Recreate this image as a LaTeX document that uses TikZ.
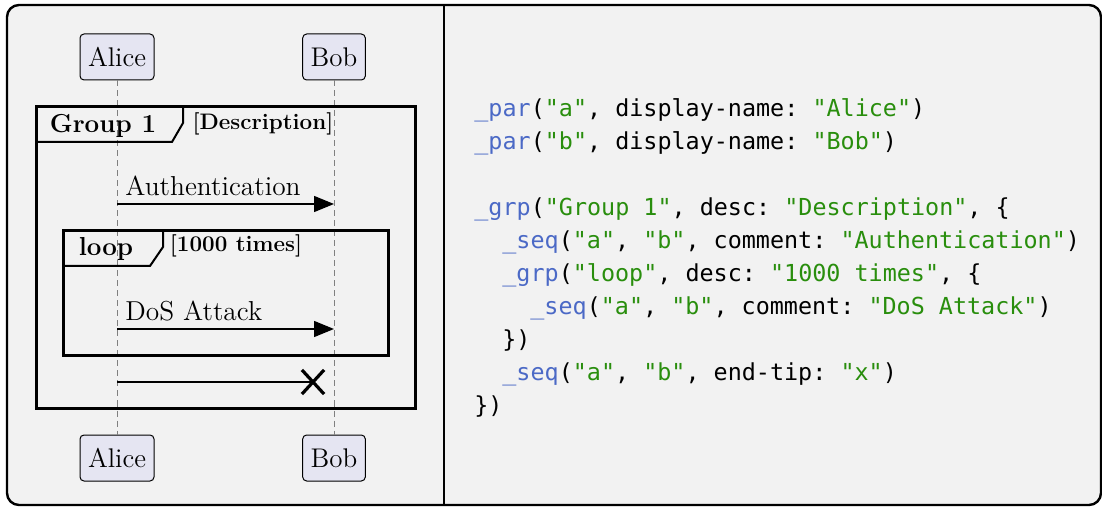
\documentclass[tikz,border=0pt]{standalone}
\usepackage{fontspec}
\setmonofont{DejaVu Sans Mono}
\usetikzlibrary{arrows.meta, shapes.misc}

\definecolor{panelbg}{HTML}{F2F2F2}
\definecolor{partfill}{HTML}{E5E5F2}
\definecolor{codeblue}{HTML}{4B69C6}
\definecolor{codegreen}{HTML}{298E0D}
\newcommand{\fncall}[1]{\textcolor{codeblue}{#1}}
\newcommand{\strlit}[1]{\textcolor{codegreen}{#1}}

\begin{document}
\begin{tikzpicture}[x=0.5pt, y=-0.5pt,
    participant/.style={draw, fill=partfill, rounded corners=2pt, line width=0.5pt,
        minimum height=23pt, inner xsep=4pt, font=\fontsize{13.5}{16}\selectfont},
    lifeline/.style={draw=gray, line width=0.5pt, dash pattern=on 3pt off 2pt},
    groupframe/.style={line width=1.5pt},
    grouptab/.style={line width=1pt},
    grouplabel/.style={inner sep=0pt, font=\fontsize{13}{15}\selectfont\bfseries},
    groupdesc/.style={inner sep=0pt, font=\fontsize{11.2}{13}\selectfont\bfseries},
    msg/.style={-{Triangle[length=10pt, width=8pt]}, line width=0.7pt},
    msglabel/.style={inner sep=0pt, anchor=base west, font=\fontsize{13.7}{16}\selectfont},
    xmark/.style={draw, cross out, line width=1.6pt, inner sep=0pt, minimum width=9.5pt, minimum height=10.5pt},
    codeline/.style={anchor=west, inner sep=0pt, text height=9pt, text depth=2.5pt,
        font=\fontsize{11.7}{14}\selectfont\ttfamily}]
    \useasboundingbox (0,0) rectangle (1102,507);

    % Panel
    \fill[panelbg, rounded corners=6pt] (7,5) rectangle (1101,505);
    \draw[line width=1.2pt, rounded corners=6pt] (7,5) rectangle (1101,505);
    \draw[line width=1.2pt] (444,5) -- (444,505);

    % Participants
    \node[participant] (aliceTop) at (117,57) {Alice};
    \node[participant] (bobTop) at (334,57) {Bob};
    \node[participant] (aliceBot) at (117,458) {Alice};
    \node[participant] (bobBot) at (334,458) {Bob};
    \draw[lifeline] (aliceTop) -- (aliceBot);
    \draw[lifeline] (bobTop) -- (bobBot);

    % Group 1
    \draw[groupframe] (36,107) rectangle (415,408);
    \draw[grouptab] (36,142) -- (172,142) -- (183,123) -- (183,107);
    \node[grouplabel] (grpOne) at (103,126) {Group 1};
    \node[groupdesc] (grpOneDesc) at (263,124) {[Description]};

    % Loop
    \draw[groupframe] (63,231) rectangle (388,356);
    \draw[grouptab] (63,266) -- (150,266) -- (163,247) -- (163,231);
    \node[grouplabel] (grpLoop) at (106,249) {loop};
    \node[groupdesc] (grpLoopDesc) at (236,246) {[1000 times]};

    % Messages
    \coordinate (aAuth) at (117,204);
    \coordinate (bAuth) at (334,204);
    \draw[msg] (aAuth) -- (bAuth);
    \node[msglabel] (lblAuth) at (125,196) {Authentication};

    \coordinate (aDos) at (117,329);
    \coordinate (bDos) at (334,329);
    \draw[msg] (aDos) -- (bDos);
    \node[msglabel] (lblDos) at (125,321) {DoS Attack};

    \coordinate (aEnd) at (117,382);
    \node[xmark] (xtip) at (313,382) {};
    \draw[line width=0.7pt] (aEnd) -- (xtip.center);

    % Source code
    \node[codeline] (code1) at (474,110) {\fncall{\_par}(\strlit{"a"}, display-name: \strlit{"Alice"})};
    \node[codeline] (code2) at (474,143) {\fncall{\_par}(\strlit{"b"}, display-name: \strlit{"Bob"})};
    \node[codeline] (code3) at (474,209) {\fncall{\_grp}(\strlit{"Group 1"}, desc: \strlit{"Description"}, \{};
    \node[codeline] (code4) at (502,242) {\fncall{\_seq}(\strlit{"a"}, \strlit{"b"}, comment: \strlit{"Authentication"})};
    \node[codeline] (code5) at (502,275) {\fncall{\_grp}(\strlit{"loop"}, desc: \strlit{"1000 times"}, \{};
    \node[codeline] (code6) at (530,308) {\fncall{\_seq}(\strlit{"a"}, \strlit{"b"}, comment: \strlit{"DoS Attack"})};
    \node[codeline] (code7) at (502,341) {\})};
    \node[codeline] (code8) at (502,374) {\fncall{\_seq}(\strlit{"a"}, \strlit{"b"}, end-tip: \strlit{"x"})};
    \node[codeline] (code9) at (474,407) {\})};
\end{tikzpicture}
\end{document}
